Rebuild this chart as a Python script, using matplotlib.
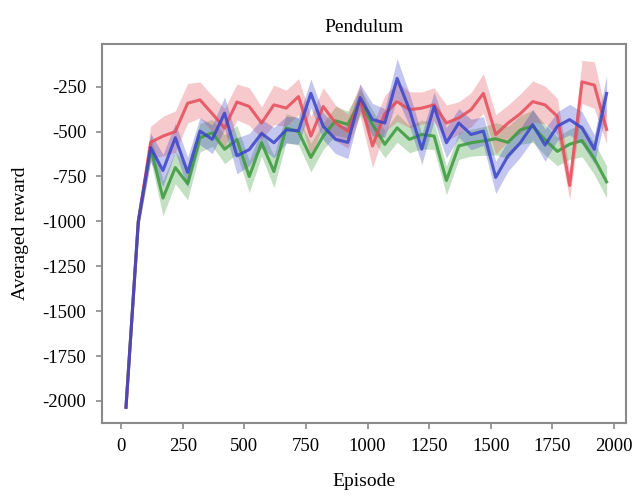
import numpy as np
import matplotlib
matplotlib.use("Agg")
import matplotlib.pyplot as plt

plt.rcParams['font.family'] = ['Liberation Serif', 'DejaVu Serif']
plt.rcParams['axes.unicode_minus'] = False

# 采样的episode位置
episodes = [20, 70, 120, 170, 220, 270, 320, 370, 420, 470,
            520, 570, 620, 670, 720, 770, 820, 870, 920, 970,
            1020, 1070, 1120, 1170, 1220, 1270, 1320, 1370, 1420, 1470,
            1520, 1570, 1620, 1670, 1720, 1770, 1820, 1870, 1920, 1970]

# 三条曲线的平均奖励
red_mean = [-2035, -1000, -560, -525, -500, -342, -323, -400, -480, -335,
            -360, -452, -351, -369, -305, -525, -360, -452, -497, -323,
            -580, -400, -333, -378, -369, -351, -452, -424, -378, -287,
            -516, -452, -400, -333, -351, -415, -800, -223, -241, -488]
green_mean = [-2035, -1000, -589, -870, -700, -790, -534, -507, -598, -545,
              -750, -562, -722, -480, -500, -644, -525, -440, -460, -330,
              -460, -571, -479, -543, -516, -525, -772, -580, -562, -552,
              -540, -560, -490, -470, -545, -610, -570, -550, -650, -780]
blue_mean = [-2035, -1000, -589, -717, -534, -727, -497, -543, -397, -635,
             -600, -510, -562, -490, -495, -287, -470, -543, -560, -310,
             -433, -452, -204, -378, -598, -360, -562, -452, -516, -497,
             -755, -635, -562, -461, -575, -470, -433, -479, -598, -287]

# 阴影带半宽（标准差）
red_std = [20, 40, 90, 110, 115, 110, 100, 100, 110, 100,
           105, 90, 110, 100, 100, 110, 105, 100, 95, 90,
           120, 100, 110, 100, 90, 95, 100, 90, 95, 110,
           110, 100, 110, 115, 105, 100, 80, 120, 130, 80]
green_std = [20, 40, 70, 100, 90, 90, 80, 75, 80, 80,
             90, 75, 90, 80, 75, 80, 75, 80, 75, 70,
             80, 75, 80, 75, 80, 75, 80, 75, 75, 80,
             90, 90, 80, 90, 85, 80, 85, 90, 90, 90]
blue_std = [20, 40, 80, 90, 80, 85, 75, 80, 90, 100,
            90, 80, 85, 75, 75, 80, 75, 80, 90, 75,
            90, 80, 110, 90, 85, 80, 85, 80, 85, 80,
            90, 85, 80, 85, 90, 80, 85, 90, 80, 100]

series = [
    (green_mean, green_std, '#3a9a3a'),
    (red_mean, red_std, '#e44c58'),
    (blue_mean, blue_std, '#3a44c8'),
]

fig = plt.figure(figsize=(6.35, 5.0), dpi=100)
ax = fig.add_axes([0.160, 0.154, 0.826, 0.758])

x = np.array(episodes)
for mean, std, color in series:
    mean = np.array(mean)
    std = np.array(std)
    ax.fill_between(x, mean - std, mean + std, color=color, alpha=0.3, linewidth=0)
    ax.plot(x, mean, color=color, linewidth=2.2, alpha=0.85)

ax.set_xlim(-79, 2049)
ax.set_ylim(-2123, -12)
ax.set_xticks([0, 250, 500, 750, 1000, 1250, 1500, 1750, 2000])
ax.set_yticks([-2000, -1750, -1500, -1250, -1000, -750, -500, -250])

ax.set_title('Pendulum', fontsize=14, pad=9)
ax.set_xlabel('Episode', fontsize=14, labelpad=13)
ax.set_ylabel('Averaged reward', fontsize=14, labelpad=10)

for spine in ax.spines.values():
    spine.set_color('#8a8a8a')
    spine.set_linewidth(1.5)
ax.tick_params(axis='both', labelsize=13.5, color='#8a8a8a', length=4, width=1.2,
               direction='out', pad=7)

fig.savefig('out.png', dpi=100)
